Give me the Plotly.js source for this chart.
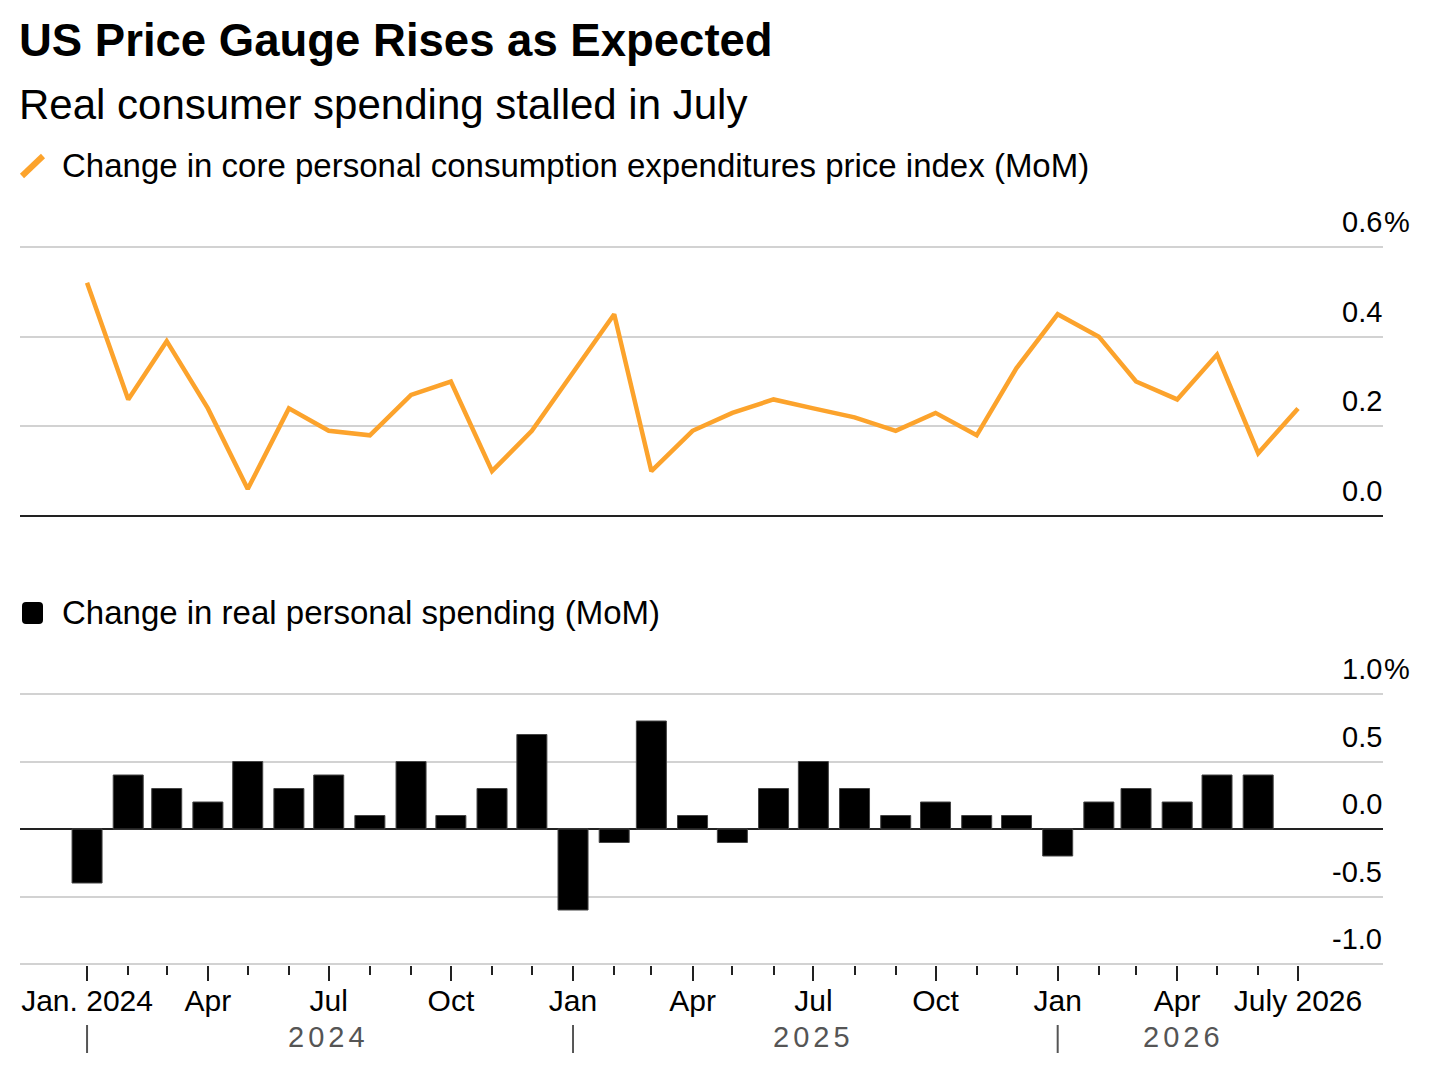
<!DOCTYPE html>
<html>
<head>
<meta charset="utf-8">
<script src="https://cdn.plot.ly/plotly-3.0.1.min.js"></script>
<style>
html,body{margin:0;padding:0;background:#fff;}
#chart{width:1440px;height:1092px;}
</style>
</head>
<body>
<div id="chart"></div>
<script>
// ---------------- data ----------------
const months = [
  '2024-01-01','2024-02-01','2024-03-01','2024-04-01','2024-05-01','2024-06-01',
  '2024-07-01','2024-08-01','2024-09-01','2024-10-01','2024-11-01','2024-12-01',
  '2025-01-01','2025-02-01','2025-03-01','2025-04-01','2025-05-01','2025-06-01',
  '2025-07-01','2025-08-01','2025-09-01','2025-10-01','2025-11-01','2025-12-01',
  '2026-01-01','2026-02-01','2026-03-01','2026-04-01','2026-05-01','2026-06-01',
  '2026-07-01'
];
// Change in core PCE price index (MoM, %)
const corePce = [
  0.52, 0.26, 0.39, 0.24, 0.06, 0.24, 0.19, 0.18, 0.27, 0.30, 0.10, 0.19,
  0.32, 0.45, 0.10, 0.19, 0.23, 0.26, 0.24, 0.22, 0.19, 0.23, 0.18, 0.33,
  0.45, 0.40, 0.30, 0.26, 0.36, 0.14, 0.24
];
// Change in real personal spending (MoM, %)
const realSpending = [
  -0.4, 0.4, 0.3, 0.2, 0.5, 0.3, 0.4, 0.1, 0.5, 0.1, 0.3, 0.7,
  -0.6, -0.1, 0.8, 0.1, -0.1, 0.3, 0.5, 0.3, 0.1, 0.2, 0.1, 0.1,
  -0.2, 0.2, 0.3, 0.2, 0.4, 0.4, null
];
const tickDates = ['2024-01-01','2024-04-01','2024-07-01','2024-10-01','2025-01-01','2025-04-01',
                   '2025-07-01','2025-10-01','2026-01-01','2026-04-01','2026-07-01'];
const tickLabels = ['Jan. 2024','Apr','Jul','Oct','Jan','Apr','Jul','Oct','Jan','Apr','July 2026'];
const topTicks = [0, 0.2, 0.4, 0.6];
const topTickLabels = ['0.0', '0.2', '0.4', '0.6'];
const botTicks = [-1, -0.5, 0, 0.5, 1];
const botTickLabels = ['-1.0', '-0.5', '0.0', '0.5', '1.0'];
const yearLabels = ['2024', '2025', '2026'];
const yearLabelPos = ['2024-07-01', '2025-07-01', '2026-04-06'];
const yearBreaks = ['2024-01-01', '2025-01-01', '2026-01-01'];

const titleText = 'US Price Gauge Rises as Expected';
const subtitleText = 'Real consumer spending stalled in July';
const legend1Text = 'Change in core personal consumption expenditures price index (MoM)';
const legend2Text = 'Change in real personal spending (MoM)';

// ---------------- layout helpers ----------------
const W = 1440, H = 1092, ML = 20, MR = 57;
const PW = W - ML - MR;
const px = x => (x - ML) / PW;
const py = y => 1 - y / H;
const FONT = 'Liberation Sans, Arial, Helvetica, sans-serif';
const ORANGE = '#FCA32C';
const xRange = ['2023-11-11 12:00', '2026-09-03'];
const dayMs = 86400000;

const annotations = [];
function addText(text, x, y, size, opts) {
  annotations.push(Object.assign({
    text: text, xref: 'paper', yref: 'paper', x: x, y: y,
    xanchor: 'left', yanchor: 'middle', showarrow: false,
    font: {family: FONT, size: size, color: '#000'}
  }, opts || {}));
}
addText('<b>' + titleText + '</b>', px(17), py(41), 45.5);
addText(subtitleText, px(17), py(105), 42);
addText(legend1Text, px(60), py(165), 33);
addText(legend2Text, px(60), py(612), 33);

// y labels (right aligned, above the gridline)
topTicks.forEach((v, i) => {
  annotations.push({text: topTickLabels[i], xref: 'paper', x: 1, xanchor: 'right', xshift: 1,
    yref: 'y', y: v, yanchor: 'bottom', yshift: 7, showarrow: false,
    font: {family: FONT, size: 29, color: '#000'}});
});
annotations.push({text: '%', xref: 'paper', x: 1, xanchor: 'left', xshift: -1,
  yref: 'y', y: topTicks[topTicks.length - 1], yanchor: 'bottom', yshift: 7, showarrow: false,
  font: {family: FONT, size: 29, color: '#000'}});
botTicks.forEach((v, i) => {
  annotations.push({text: botTickLabels[i], xref: 'paper', x: 1, xanchor: 'right', xshift: 1,
    yref: 'y2', y: v, yanchor: 'bottom', yshift: 7, showarrow: false,
    font: {family: FONT, size: 29, color: '#000'}});
});
annotations.push({text: '%', xref: 'paper', x: 1, xanchor: 'left', xshift: -1,
  yref: 'y2', y: botTicks[botTicks.length - 1], yanchor: 'bottom', yshift: 7, showarrow: false,
  font: {family: FONT, size: 29, color: '#000'}});

// year labels
const yearIdx = [];
yearLabels.forEach((t, i) => {
  yearIdx.push(annotations.length);
  annotations.push({text: t, xref: 'x2', x: yearLabelPos[i], xanchor: 'center',
    yref: 'paper', y: py(1037), yanchor: 'middle', showarrow: false,
    font: {family: FONT, size: 29, color: '#555'}});
});
const st = document.createElement('style');
st.textContent = yearIdx.map(i => 'g.annotation[data-index="' + i + '"] text').join(',') +
  '{letter-spacing:4px;}';
document.head.appendChild(st);

// shapes: legend swatches + year separators
const shapes = [];
shapes.push({type: 'line', xref: 'paper', yref: 'paper', x0: px(22), y0: py(176), x1: px(43), y1: py(156),
  line: {color: ORANGE, width: 6}});
(function () {
  const x0 = 22, x1 = 43, y0 = 602, y1 = 624, r = 4;
  const p = 'M' + px(x0 + r) + ',' + py(y0) + ' L' + px(x1 - r) + ',' + py(y0) +
    ' Q' + px(x1) + ',' + py(y0) + ' ' + px(x1) + ',' + py(y0 + r) +
    ' L' + px(x1) + ',' + py(y1 - r) +
    ' Q' + px(x1) + ',' + py(y1) + ' ' + px(x1 - r) + ',' + py(y1) +
    ' L' + px(x0 + r) + ',' + py(y1) +
    ' Q' + px(x0) + ',' + py(y1) + ' ' + px(x0) + ',' + py(y1 - r) +
    ' L' + px(x0) + ',' + py(y0 + r) +
    ' Q' + px(x0) + ',' + py(y0) + ' ' + px(x0 + r) + ',' + py(y0) + ' Z';
  shapes.push({type: 'path', xref: 'paper', yref: 'paper', path: p, fillcolor: '#000', line: {width: 0}});
})();
yearBreaks.forEach(d => {
  shapes.push({type: 'line', xref: 'x2', yref: 'paper', x0: d, x1: d, y0: py(1025), y1: py(1053),
    line: {color: '#555', width: 2}});
});

// ---------------- traces ----------------
const traces = [
  {type: 'scatter', mode: 'lines', x: months, y: corePce, xaxis: 'x', yaxis: 'y',
   line: {color: ORANGE, width: 4.5}, hoverinfo: 'skip'},
  {type: 'bar', x: months, y: realSpending, xaxis: 'x2', yaxis: 'y2',
   width: 22.6 * dayMs,
   marker: {color: '#000', line: {color: '#444', width: 1}}, hoverinfo: 'skip'}
];

// axis ranges padded slightly so edge gridlines are drawn
const topPad = 0.004, botPad = 0.01;
const topPxPerUnit = (516 - 247) / 0.6, botPxPerUnit = (964 - 694) / 2;

const layout = {
  width: W, height: H,
  margin: {l: ML, r: MR, t: 0, b: 0, pad: 0, autoexpand: false},
  paper_bgcolor: '#fff', plot_bgcolor: '#fff',
  showlegend: false,
  font: {family: FONT, color: '#000'},
  xaxis: {type: 'date', range: xRange, anchor: 'y', domain: [0, 1],
    showgrid: false, zeroline: false, showline: false, showticklabels: false, ticks: ''},
  yaxis: {range: [-topPad, 0.6 + topPad],
    domain: [py(516 + topPad * topPxPerUnit), py(247 - topPad * topPxPerUnit)], anchor: 'x',
    tickmode: 'array', tickvals: topTicks, showticklabels: false, ticks: '',
    showgrid: true, gridcolor: '#d2d2d2', gridwidth: 2,
    zeroline: true, zerolinecolor: '#222', zerolinewidth: 1.5, showline: false},
  xaxis2: {type: 'date', range: xRange, anchor: 'y2', domain: [0, 1],
    showgrid: false, zeroline: false, showline: false,
    tickmode: 'array', tickvals: tickDates, ticktext: tickLabels,
    ticks: 'outside', ticklen: 15, tickwidth: 2, tickcolor: '#222',
    ticklabelstandoff: -6,
    tickfont: {family: FONT, size: 30, color: '#000'},
    minor: {tickmode: 'array', tickvals: months, ticks: 'outside',
      ticklen: 9, tickwidth: 2, tickcolor: '#222', showgrid: false}},
  yaxis2: {range: [-1 - botPad, 1 + botPad],
    domain: [py(964 + botPad * botPxPerUnit), py(694 - botPad * botPxPerUnit)], anchor: 'x2',
    tickmode: 'array', tickvals: botTicks, showticklabels: false, ticks: '',
    showgrid: true, gridcolor: '#d2d2d2', gridwidth: 2,
    zeroline: true, zerolinecolor: '#222', zerolinewidth: 2, showline: false},
  annotations: annotations,
  shapes: shapes,
  bargap: 0.25
};

Plotly.newPlot('chart', traces, layout, {displayModeBar: false, staticPlot: true});
</script>
</body>
</html>
